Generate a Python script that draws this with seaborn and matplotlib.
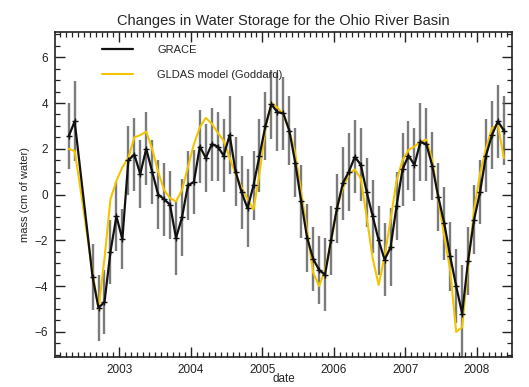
import numpy as np
import pandas as pd
import matplotlib
matplotlib.use("Agg")
import matplotlib.pyplot as plt
from matplotlib.ticker import MultipleLocator
import seaborn as sns

# ---------------- data ----------------
grace_months = (["2002-04", "2002-05"] +
                [f"2002-{m:02d}" for m in range(8, 13)] +
                [f"{y}-{m:02d}" for y in range(2003, 2008) for m in range(1, 13)] +
                [f"2008-{m:02d}" for m in range(1, 6)])
grace_mass = [
    2.55, 3.2, -3.6, -4.95, -4.7, -2.5, -0.95,
    -1.95, 1.5, 1.75, 0.9, 2.0, 1.0, 0.0, -0.2, -0.45, -1.9, -1.0, 0.4,
    0.55, 2.1, 1.6, 2.2, 2.1, 1.7, 2.6, 1.0, 0.1, -0.6, 0.4, 1.7,
    3.0, 3.95, 3.6, 3.55, 2.8, 1.4, -0.3, -1.9, -2.8, -3.3, -3.5, -2.0,
    -0.6, 0.5, 1.0, 1.65, 1.3, 0.1, -0.95, -2.0, -2.85, -2.3, -0.5, 1.1,
    1.7, 1.3, 2.3, 2.2, 1.25, -0.1, -1.25, -2.7, -4.0, -5.2, -2.9, -1.1,
    0.1, 1.7, 2.6, 3.2, 2.8,
]
grace_err = [
    1.45, 1.75, 1.45, 1.45, 1.4, 1.4, 1.5,
    1.3, 1.5, 1.6, 1.5, 1.6, 1.4, 1.5, 1.6, 1.5, 1.6, 1.7, 1.5,
    1.4, 1.6, 1.5, 1.6, 1.5, 1.6, 1.7, 1.5, 1.6, 1.7, 1.5, 1.6,
    1.5, 1.5, 1.7, 1.6, 1.5, 1.5, 1.6, 1.5, 1.4, 1.5, 1.6, 1.5,
    1.5, 1.6, 1.7, 1.6, 1.6, 1.5, 1.6, 1.5, 1.6, 1.7, 1.5, 1.6,
    1.5, 1.6, 1.7, 1.6, 1.5, 1.5, 1.6, 1.5, 1.6, 2.1, 1.5, 1.5,
    1.4, 1.6, 1.5, 1.6, 1.5,
]

gldas_months = ([f"2002-{m:02d}" for m in range(4, 13)] +
                [f"{y}-{m:02d}" for y in range(2003, 2008) for m in range(1, 13)] +
                [f"2008-{m:02d}" for m in range(1, 6)])
gldas_mass = [
    2.0, 1.9, 0.2, -1.6, -3.4, -5.0, -2.8, -0.2, 0.6,
    1.2, 1.6, 2.5, 2.6, 2.75, 2.0, 1.0, 0.2, -0.15, -0.3, 0.2, 1.2,
    2.2, 2.95, 3.35, 3.1, 2.7, 2.35, 1.6, 0.9, 0.3, -0.2, -0.65, 0.9,
    2.9, 4.0, 3.8, 3.5, 2.8, 1.8, 0.1, -1.6, -3.4, -4.0, -3.3, -2.1,
    -0.6, 0.3, 0.9, 1.1, 0.7, -1.0, -2.8, -3.95, -2.7, -1.1, 0.6, 1.5,
    1.95, 2.1, 2.3, 2.4, 1.5, -0.2, -1.8, -3.3, -6.0, -5.8, -3.1, -0.7,
    0.9, 2.0, 2.9, 3.05, 1.6,
]

year_ticks = [2003, 2004, 2005, 2006, 2007, 2008]
mass_ticks = [-6, -4, -2, 0, 2, 4, 6]


def to_decimal_year(labels):
    out = []
    for s in labels:
        y, m = s.split("-")
        out.append(int(y) + (int(m) - 0.5) / 12.0)
    return np.array(out)


grace = pd.DataFrame({"date": to_decimal_year(grace_months),
                      "mass": grace_mass, "err": grace_err})
gldas = pd.DataFrame({"date": to_decimal_year(gldas_months), "mass": gldas_mass})

# ---------------- figure ----------------
sns.set_style("ticks")
plt.rcParams["font.family"] = ["Liberation Sans", "DejaVu Sans"]

fig = plt.figure(figsize=(5.29, 3.87), dpi=100)
ax = fig.add_axes([0.104, 0.0775, 0.864, 0.8395])

# error bars of GRACE
ax.vlines(grace["date"], grace["mass"] - grace["err"], grace["mass"] + grace["err"],
          colors="#5a5a5a", linewidth=1.7, alpha=0.8, zorder=1)

sns.lineplot(data=gldas, x="date", y="mass", ax=ax, color="#f2c500",
             linewidth=1.5, sort=False, estimator=None, label="GLDAS model (Goddard)",
             zorder=2)
sns.lineplot(data=grace, x="date", y="mass", ax=ax, color="#111111",
             linewidth=1.6, sort=False, estimator=None, label="GRACE",
             marker="+", markersize=4, markeredgewidth=1.0,
             markeredgecolor="#111111", zorder=3)

ax.set_xlim(2002.1, 2008.49)
ax.set_ylim(-7.1, 7.1)
ax.set_xticks(year_ticks)
ax.set_xticklabels([str(y) for y in year_ticks])
ax.set_yticks(mass_ticks)
ax.xaxis.set_minor_locator(MultipleLocator(1 / 12))
ax.yaxis.set_minor_locator(MultipleLocator(0.5))

ax.tick_params(which="both", direction="in", top=True, right=True, colors="#222222")
ax.tick_params(which="major", length=7, width=1.0, labelsize=8.5, pad=5)
ax.tick_params(which="minor", length=3.5, width=0.9)
for sp in ax.spines.values():
    sp.set_linewidth(1.2)
    sp.set_color("#222222")

ax.set_xlabel("date", fontsize=8.5)
ax.xaxis.set_label_coords(0.5, -0.05)
ax.set_ylabel("mass (cm of water)", fontsize=8, labelpad=3)
ax.set_title("Changes in Water Storage for the Ohio River Basin", fontsize=10.5, pad=5)

handles, labels = ax.get_legend_handles_labels()
order = [labels.index("GRACE"), labels.index("GLDAS model (Goddard)")]
leg = ax.legend([handles[i] for i in order], [labels[i] for i in order],
                loc="upper left", bbox_to_anchor=(0.08, 0.99), frameon=False,
                fontsize=8, handlelength=2.8, handletextpad=2.2, labelspacing=1.3)
for h in leg.legend_handles:
    h.set_marker("")

fig.savefig("out.png", dpi=100)
